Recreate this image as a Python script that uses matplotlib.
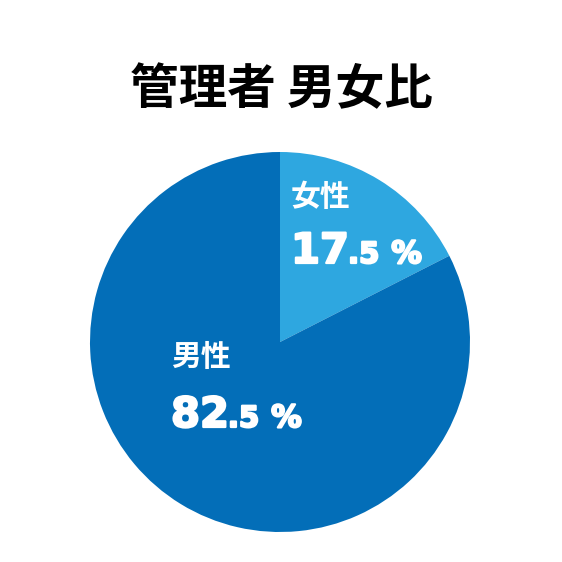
import matplotlib
matplotlib.use("Agg")
import matplotlib.pyplot as plt
import matplotlib.patheffects as pe

plt.rcParams['font.family'] = ['Noto Sans CJK JP', 'DejaVu Sans']

title = "管理者 男女比"
categories = ["女性", "男性"]
values = [17.5, 82.5]
colors = ["#2EA7E0", "#036EB8"]

W = H = 562
fig = plt.figure(figsize=(5.62, 5.62), dpi=100)
cx, cy, r = 280, 342, 190
ax = fig.add_axes([(cx - r) / W, (H - cy - r) / H, 2 * r / W, 2 * r / H])
ax.pie(values, colors=colors, startangle=90, counterclock=False, radius=1,
       wedgeprops=dict(linewidth=0))
ax.set_xlim(-1, 1)
ax.set_ylim(-1, 1)
ax.set_aspect('equal')
ax.axis('off')

fig.text(281 / W, 1 - 90 / H, title, ha='center', va='center',
         fontsize=35, fontweight='bold', color='black')

num_font = ['DejaVu Sans']
thick = [pe.withStroke(linewidth=1.6, foreground='white')]

def px(x, y):
    return ((x - cx) / r, (cy - y) / r)

def right_edge(t):
    fig.canvas.draw()
    bb = t.get_window_extent()
    return ax.transData.inverted().transform((bb.x1, bb.y0))[0]

def label(x, y_name, y_base, name, value):
    ax.text(*px(x - 1, y_name), name, ha='left', va='center', fontsize=21.5,
            fontweight='bold', color='white')
    whole, frac = f"{value:.1f}".split('.')
    yb = px(0, y_base)[1]
    t = ax.text(px(x - 1, 0)[0], yb, whole, ha='left', va='baseline',
                fontsize=30, fontweight='bold', color='white', family=num_font,
                path_effects=thick)
    t2 = ax.text(right_edge(t) - 1 / r, yb, f".{frac}", ha='left', va='baseline',
                 fontsize=21, fontweight='bold', color='white', family=num_font,
                 path_effects=thick)
    ax.text(right_edge(t2) + 12 / r, yb, "%", ha='left', va='baseline',
            fontsize=22, fontweight='bold', color='white', family=num_font,
            path_effects=thick)

label(292, 197, 263, categories[0], values[0])
label(172, 357, 427, categories[1], values[1])

fig.savefig("out.png", dpi=100)
